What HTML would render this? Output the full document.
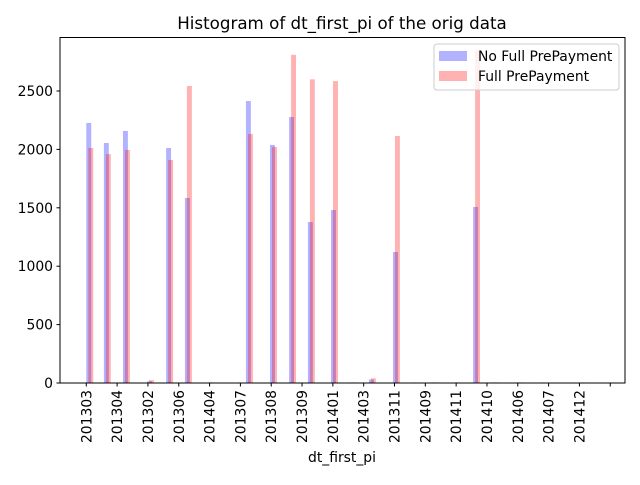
<!DOCTYPE html>
<html><head><meta charset="utf-8"><style>
body{margin:0;background:#fff}
svg{font-family:"DejaVu Sans","Liberation Sans",sans-serif}
</style></head><body>
<svg id="chart" width="640" height="480" viewBox="0 0 640 480">
<text x="342" y="29" font-size="16.7" text-anchor="middle">Histogram of dt_first_pi of the orig data</text>
<g id="bars"></g>
<rect x="60" y="37.5" width="565" height="345.5" fill="none" stroke="#000" stroke-width="1"/>
<g id="yaxis"></g>
<g id="xaxis"></g>
<text x="342" y="462" font-size="13.9" text-anchor="middle">dt_first_pi</text>
<g>
<rect x="434" y="44" width="185" height="46" rx="3" fill="#fff" fill-opacity="0.8" stroke="#ccc"/>
<rect x="439" y="51" width="28" height="10" fill="#0000ff" fill-opacity="0.3"/>
<text x="478" y="61" font-size="13.9">No Full PrePayment</text>
<rect x="439" y="71" width="28" height="10" fill="#ff0000" fill-opacity="0.3"/>
<text x="478" y="81" font-size="13.9">Full PrePayment</text>
</g>
</svg>
<script>
const categories=["201303","201304","201302","201306","201404","201307","201308","201309","201401","201403","201311","201409","201411","201410","201406","201407","201412",""];
const binPositions=[0,0.57,1.19,1.97,2.59,3.2,3.95,5.18,5.96,6.58,7.19,7.94,8.55,9.17,9.95,10.57,11.18,11.93,12.55,13.16,13.94,14.65,15.98];
const noFullValues=[2226,2055,2158,15,2012,1584,5,2414,2038,2277,1378,1481,5,30,1122,5,5,5,1507,5,5,0,0];
const fullValues=[2012,1960,1995,25,1909,2543,5,2132,2020,2810,2600,2585,5,40,2115,0,5,5,2850,5,5,5,5];
const yTicks=[0,500,1000,1500,2000,2500];
const NS="http://www.w3.org/2000/svg";
function xs(u){return 86.3+u*30.82;}
function ys(v){return 383-v*292/2500;}
const barW=0.16, redOff=0.065;
const bars=document.getElementById('bars');
function mk(tag,attrs,parent){const e=document.createElementNS(NS,tag);for(const k in attrs)e.setAttribute(k,attrs[k]);parent.appendChild(e);return e;}
binPositions.forEach((p,i)=>{
  if(noFullValues[i]>0){
    const r=mk('rect',{x:xs(p),y:ys(noFullValues[i]),width:barW*30.82,height:383-ys(noFullValues[i]),fill:'#0000ff','fill-opacity':0.3},bars);
    
    
  }
  if(fullValues[i]>0){
    const r=mk('rect',{x:xs(p+redOff),y:ys(fullValues[i]),width:barW*30.82,height:383-ys(fullValues[i]),fill:'#ff0000','fill-opacity':0.3},bars);
    
    
  }
});
const ya=document.getElementById('yaxis');
yTicks.forEach(v=>{
  const l=mk('line',{x1:56.5,x2:60,y1:ys(v),y2:ys(v),stroke:'#000'},ya);
  
  
  const t=mk('text',{x:53,y:ys(v)+5,'font-size':13.9,'text-anchor':'end'},ya);
  t.textContent=v;
  
  
});
const xa=document.getElementById('xaxis');
categories.forEach((c,i)=>{
  const x=xs(i);
  const l=mk('line',{x1:x,x2:x,y1:383,y2:386.5,stroke:'#000'},xa);
  
  
  if(c){
    const t=mk('text',{x:0,y:0,'font-size':13.9,'text-anchor':'end',transform:`translate(${x+5},390) rotate(-90)`},xa);
    t.textContent=c;
    
    
  }
});
</script>
</body></html>
